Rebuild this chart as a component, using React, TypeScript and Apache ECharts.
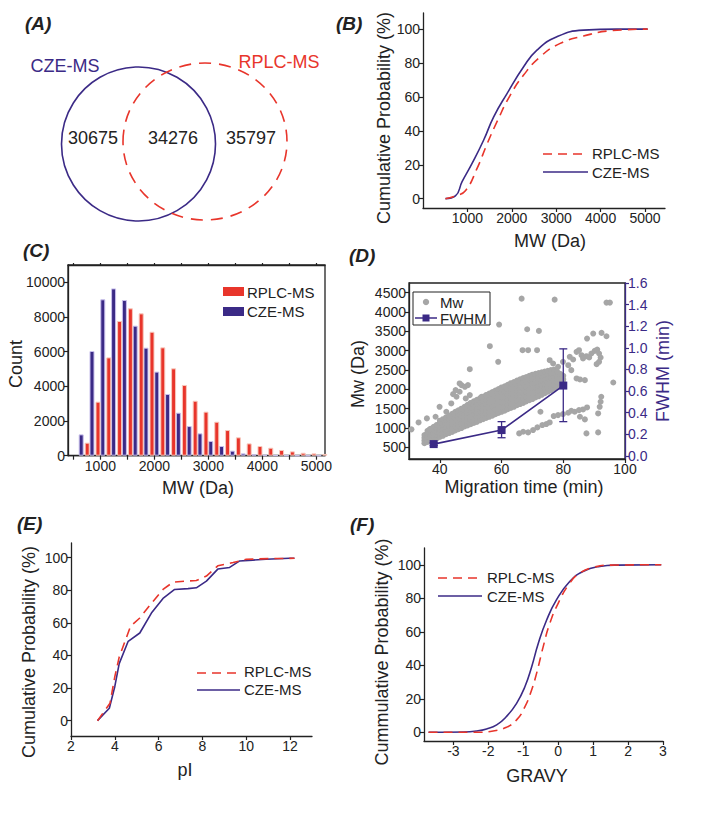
import React, { useEffect, useRef } from "react";
import * as echarts from "echarts";

const PURPLE = "#3b2a86";
const RED = "#e8352b";
const GRAY = "#a6a6a6";
const INK = "#222222";
const FONT = "'Liberation Sans', Arial, Helvetica, sans-serif";

// (A) Venn
const vennNames = ["CZE-MS", "RPLC-MS"];
const vennCounts = ["30675", "34276", "35797"];

// (B) cumulative MW
const bCzeMw = [506, 730, 880, 1105, 1367, 1592, 1892, 2266, 2566, 3015, 3614, 4363, 5060];
const bCzeProb = [0, 1.6, 10, 20.8, 34.6, 48.3, 62, 77.8, 87.6, 95.5, 99.4, 100, 100];
const bRplcMw = [506, 730, 955, 1218, 1442, 1667, 1966, 2266, 2640, 3090, 3614, 4213, 5060];
const bRplcProb = [0, 1.6, 4.7, 17.9, 32.2, 45.4, 61.1, 72.9, 83.7, 91.6, 95.9, 99, 100];
const bXTicks = [1000, 2000, 3000, 4000, 5000];
const probTicks = [0, 20, 40, 60, 80, 100];

// (C) histogram
const cBins = [700, 900, 1100, 1300, 1500, 1700, 1900, 2100, 2300, 2500, 2700, 2900, 3100, 3300, 3500, 3700, 3900, 4100, 4300, 4500, 4700, 4900, 5100];
const cCze = [1230, 6040, 9020, 9650, 8980, 7500, 6230, 4850, 3560, 2480, 1710, 1290, 850, 560, 290, 135, 80, 40, 20, 10, 5, 0, 0];
const cRplc = [750, 3115, 5670, 7770, 8500, 8210, 7150, 6250, 5040, 4080, 3170, 2540, 1960, 1480, 1060, 710, 560, 460, 330, 250, 170, 135, 100];
const cYTicks = [0, 2000, 4000, 6000, 8000, 10000];
const cMinorTicks = [500, 1000, 1500, 2000, 2500, 3000, 3500, 4000, 4500, 5000];

// (D) migration time vs Mw
const dBand: [number, number[]][] = [
  [35, [610, 680, 750, 820]],
  [36, [640, 710, 790, 870, 930]],
  [37, [660, 740, 830, 910, 980]],
  [38, [700, 780, 870, 950, 1030]],
  [39, [730, 820, 900, 990, 1080]],
  [40, [770, 860, 950, 1040, 1130, 1190]],
  [41, [800, 890, 990, 1080, 1170, 1230]],
  [42, [840, 930, 1030, 1120, 1210, 1280]],
  [43, [870, 970, 1060, 1160, 1250, 1320]],
  [44, [900, 1000, 1100, 1200, 1300, 1370]],
  [45, [940, 1040, 1140, 1240, 1340, 1420]],
  [46, [970, 1070, 1180, 1280, 1380, 1460]],
  [47, [1000, 1110, 1210, 1320, 1420, 1500]],
  [48, [1040, 1140, 1250, 1350, 1460, 1550]],
  [49, [1070, 1180, 1290, 1390, 1500, 1600]],
  [50, [1100, 1210, 1320, 1430, 1540, 1650]],
  [51, [1130, 1240, 1360, 1470, 1580, 1690]],
  [52, [1160, 1280, 1390, 1500, 1620, 1730]],
  [53, [1200, 1310, 1430, 1540, 1660, 1770]],
  [54, [1230, 1350, 1460, 1580, 1700, 1810]],
  [55, [1260, 1380, 1500, 1620, 1740, 1850]],
  [56, [1290, 1410, 1530, 1650, 1770, 1890]],
  [57, [1320, 1440, 1560, 1690, 1810, 1930]],
  [58, [1360, 1480, 1600, 1720, 1850, 1970]],
  [59, [1390, 1510, 1640, 1760, 1890, 2010]],
  [60, [1420, 1540, 1670, 1800, 1920, 2050]],
  [61, [1450, 1580, 1710, 1840, 1960, 2080]],
  [62, [1490, 1610, 1740, 1870, 2000, 2120]],
  [63, [1520, 1650, 1780, 1910, 2040, 2160]],
  [64, [1550, 1680, 1810, 1940, 2070, 2190]],
  [65, [1590, 1720, 1850, 1980, 2110, 2230]],
  [66, [1620, 1750, 1880, 2010, 2140, 2260]],
  [67, [1650, 1780, 1910, 2040, 2170, 2290]],
  [68, [1690, 1820, 1950, 2080, 2210, 2320]],
  [69, [1720, 1850, 1980, 2110, 2240, 2350]],
  [70, [1750, 1880, 2010, 2140, 2270, 2380]],
  [71, [1790, 1920, 2050, 2170, 2300, 2400]],
  [72, [1820, 1950, 2080, 2200, 2320, 2420]],
  [73, [1860, 1990, 2110, 2230, 2350, 2440]],
  [74, [1900, 2020, 2140, 2260, 2370, 2460]],
  [75, [1940, 2060, 2170, 2290, 2400, 2480]],
  [76, [1980, 2090, 2200, 2310, 2420, 2500]],
  [77, [2020, 2130, 2240, 2340, 2440, 2510]],
  [78, [2060, 2170, 2270, 2370, 2460]],
  [79, [2110, 2210, 2310, 2400]],
  [80, [2160, 2260, 2350]],
];
const dOutliers: [number, number][] = [
  [30.8, 966], [33.1, 1146], [36.7, 966], [35.8, 1250], [38.6, 1292], [39.9, 1550],
  [42.1, 1421], [43.2, 1292], [43.7, 1637], [45.4, 1809], [46.4, 1938], [47, 2110],
  [48.1, 2067], [49.1, 2110], [46.4, 2153], [45.1, 1981], [44.3, 1877], [49.7, 2522],
  [48.4, 1766], [49.7, 1852], [53.5, 1809], [55.1, 1852], [56.7, 1895], [58.9, 2712],
  [56.2, 3116], [59.2, 3675], [66.5, 4346], [77.2, 4320], [68.3, 3555], [72.1, 3512],
  [66.8, 3013], [68.6, 3013], [71.5, 3013],
  [65.7, 862], [67, 905], [68.6, 888], [70.2, 948], [71.6, 1017], [73.2, 1077],
  [74.5, 1103], [75.6, 1146], [72.6, 1421], [76.9, 1310], [78.3, 1335], [79.9, 1361],
  [81.6, 1396], [82.6, 1447], [83.7, 1421], [85.1, 1464], [86.4, 1482], [87.7, 1533],
  [85.4, 1292], [87, 1224], [87.5, 862], [91.3, 888], [91.3, 1378], [91.8, 1550],
  [92.1, 1680], [92.3, 1809],
  [75.6, 2755], [76.7, 2669], [78.3, 2583], [79.9, 2712], [81.6, 2626], [82.6, 2497],
  [84.3, 2282], [85.4, 2256], [87, 2239], [82.1, 2841], [83.2, 2772], [84.3, 2970],
  [85.1, 3013], [85.9, 2884], [86.4, 2798], [87.5, 2858], [88.4, 2824], [89.1, 2927],
  [90.2, 2996], [91, 3030], [91.6, 2927], [92.1, 2824], [91.6, 2712], [90.8, 2652],
  [87.7, 3314], [89.7, 3443], [92.4, 3460], [94, 3374], [94, 4243], [95.1, 4243], [96.2, 2178],
];
const dFwhmTime = [38, 60, 80];
const dFwhm = [0.108, 0.238, 0.65];
const dFwhmLow = [0.095, 0.167, 0.316];
const dFwhmHigh = [0.12, 0.316, 0.99];
const dXTicks = [40, 60, 80, 100];
const dYTicks = [500, 1000, 1500, 2000, 2500, 3000, 3500, 4000, 4500];
const dY2Ticks = [0, 0.2, 0.4, 0.6, 0.8, 1.0, 1.2, 1.4, 1.6];

// (E) pI
const eCzePi = [3.21, 3.75, 4.0, 4.2, 4.61, 5.14, 5.67, 6.2, 6.73, 7.34, 7.72, 8.18, 8.7, 9.24, 9.7, 10.3, 10.9, 11.97, 12.2];
const eCzeProb = [0, 7.6, 21, 35, 48.7, 53.8, 66, 75, 80.5, 81, 81.5, 85.6, 93, 94, 98, 98.5, 99, 99.6, 99.6];
const eRplcPi = [3.21, 3.78, 4.0, 4.2, 4.72, 5.14, 5.67, 6.2, 6.66, 7.27, 7.72, 8.18, 8.7, 9.4, 10.0, 11.0, 12.2];
const eRplcProb = [0, 10.7, 27, 39, 58, 63, 72, 80.5, 85, 85.6, 86, 88.7, 95, 97, 99, 99.4, 99.6];
const eXTicks = [2, 4, 6, 8, 10, 12];

// (F) GRAVY
const fCzeGravy = [-3.71, -2.71, -2.33, -2.05, -1.76, -1.48, -1.19, -0.95, -0.76, -0.57, -0.33, -0.05, 0.33, 0.71, 1.19, 1.67, 2.95];
const fCzeProb = [0, 0.2, 0.8, 2, 4.4, 9.4, 17.3, 27.3, 39, 53, 67, 79, 90, 96, 99, 99.8, 100];
const fRplcGravy = [-3.71, -2.33, -1.86, -1.48, -1.19, -0.95, -0.76, -0.62, -0.43, -0.24, 0, 0.33, 0.62, 1.0, 1.48, 2.95];
const fRplcProb = [0, 0, 0.8, 3, 7.4, 15.3, 25.3, 35, 51, 65, 77, 89, 95, 98.4, 99.8, 100];
const fXTicks = [-3, -2, -1, 0, 1, 2, 3];

const zip = (a: number[], b: number[]) => a.map((v, i) => [v, b[i]]);

function axis(gridIndex: number, min: number, max: number, ticks: number[], extra: any = {}) {
  const color = extra.color || INK;
  return {
    type: "value",
    gridIndex,
    min,
    max,
    position: extra.position,
    axisLine: { show: true, onZero: false, lineStyle: { color, width: 1.3 } },
    axisTick: {
      show: true,
      inside: false,
      length: extra.tickLength || 4,
      customValues: extra.tickValues || ticks,
      lineStyle: { color, width: 1.2 },
    },
    axisLabel: {
      show: extra.noLabels ? false : true,
      customValues: ticks,
      color,
      fontSize: 14,
      fontFamily: FONT,
      margin: 3,
      formatter: extra.formatter || ((v: number) => String(v)),
      hideOverlap: false,
    },
    splitLine: { show: false },
  };
}

function text(t: string, x: number, y: number, opts: any = {}) {
  return {
    type: "text",
    x,
    y,
    rotation: opts.rotate ? Math.PI / 2 : 0,
    silent: true,
    style: {
      text: t,
      x: 0,
      y: 0,
      fill: opts.color || INK,
      fontSize: opts.size || 18,
      fontFamily: FONT,
      fontWeight: opts.bold ? "bold" : "normal",
      fontStyle: opts.italic ? "italic" : "normal",
      textAlign: opts.align || "center",
      textVerticalAlign: "middle",
    },
  };
}

function hline(x1: number, x2: number, y: number, color: string, dashed: boolean, w = 1.6) {
  return {
    type: "line",
    silent: true,
    shape: { x1, y1: y, x2, y2: y },
    style: { stroke: color, lineWidth: w, lineDash: dashed ? [9, 6] : null },
  };
}

export default function App() {
  const ref = useRef<HTMLDivElement>(null);
  useEffect(() => {
    if (!ref.current) return;
    const chart = echarts.init(ref.current, null, { renderer: "svg" });

    const dScatter: number[][] = [];
    dBand.forEach(([t, ms]) => ms.forEach((m) => dScatter.push([t, m])));
    dOutliers.forEach((p) => dScatter.push(p));

    const panel = (s: string, x: number, y: number) => text(s, x, y, { bold: true, italic: true, size: 19, align: "left" });

    const graphic: any[] = [
      panel("(A)", 25, 23),
      panel("(B)", 336, 23),
      panel("(C)", 23, 250),
      panel("(D)", 349, 255),
      panel("(E)", 17, 523),
      panel("(F)", 350, 524),
      // Venn
      {
        type: "circle",
        silent: true,
        shape: { cx: 138.5, cy: 144, r: 77 },
        style: { fill: "none", stroke: PURPLE, lineWidth: 1.6 },
      },
      {
        type: "ellipse",
        silent: true,
        shape: { cx: 205, cy: 141.5, rx: 82, ry: 78.5 },
        style: { fill: "none", stroke: RED, lineWidth: 1.6, lineDash: [12, 8] },
      },
      text(vennNames[0], 65, 66, { color: PURPLE }),
      text(vennNames[1], 279, 62, { color: RED }),
      text(vennCounts[0], 93, 138),
      text(vennCounts[1], 173, 138),
      text(vennCounts[2], 251, 138),
      // B titles & legend
      text("Cumulative Probability (%)", 384, 118, { rotate: true }),
      text("MW (Da)", 550, 241),
      hline(543, 588, 154, RED, true),
      text("RPLC-MS", 592, 153, { size: 15, align: "left" }),
      hline(543, 588, 172, PURPLE, false),
      text("CZE-MS", 592, 172, { size: 15, align: "left" }),
      // C titles & legend
      text("Count", 16, 364, { rotate: true }),
      text("MW (Da)", 198, 488),
      { type: "rect", silent: true, shape: { x: 223, y: 287, width: 21, height: 9 }, style: { fill: RED } },
      text("RPLC-MS", 247, 292, { size: 15, align: "left" }),
      { type: "rect", silent: true, shape: { x: 223, y: 307, width: 21, height: 9 }, style: { fill: PURPLE } },
      text("CZE-MS", 247, 311, { size: 15, align: "left" }),
      // D titles & legend
      text("Mw (Da)", 358, 374, { rotate: true }),
      text("FWHM (min)", 663, 371, { rotate: true, color: PURPLE }),
      text("Migration time (min)", 524, 487),
      {
        type: "rect",
        silent: true,
        shape: { x: 413, y: 292, width: 77, height: 33 },
        style: { fill: "#fff", stroke: INK, lineWidth: 1 },
        z: 100,
      },
      { type: "circle", silent: true, z: 101, shape: { cx: 426, cy: 302, r: 3.2 }, style: { fill: GRAY } },
      { ...text("Mw", 440, 302, { size: 15, align: "left" }), z: 101 },
      { ...hline(415, 437, 318, PURPLE, false, 1.5), z: 101 },
      { type: "rect", silent: true, z: 101, shape: { x: 422.5, y: 314.5, width: 7, height: 7 }, style: { fill: PURPLE } },
      { ...text("FWHM", 440, 318, { size: 15, align: "left" }), z: 101 },
      // E titles & legend
      text("Cumulative Probability (%)", 29, 652, { rotate: true }),
      text("pI", 185, 770),
      hline(197, 240, 673, RED, true),
      text("RPLC-MS", 244, 671, { size: 15, align: "left" }),
      hline(197, 240, 690, PURPLE, false),
      text("CZE-MS", 244, 689, { size: 15, align: "left" }),
      // F titles & legend
      text("Cummulative Probability (%)", 382, 652, { rotate: true }),
      text("GRAVY", 537, 776),
      hline(438, 482, 578, RED, true),
      text("RPLC-MS", 487, 577, { size: 15, align: "left" }),
      hline(438, 482, 596, PURPLE, false),
      text("CZE-MS", 487, 596, { size: 15, align: "left" }),
    ];

    const lineSeries = (xi: number, yi: number, data: number[][], color: string, dashed: boolean, smooth: any) => ({
      type: "line",
      xAxisIndex: xi,
      yAxisIndex: yi,
      data,
      showSymbol: false,
      symbol: "none",
      smooth,
      lineStyle: { color, width: 1.6, type: dashed ? [9, 6] : "solid" },
      itemStyle: { color },
      z: dashed ? 3 : 2,
    });

    const option: any = {
      animation: false,
      backgroundColor: "#ffffff",
      textStyle: { fontFamily: FONT },
      grid: [
        { left: 423, top: 13, width: 242, height: 195 },
        { left: 68, top: 265, width: 257, height: 190.7, show: true, borderColor: INK, borderWidth: 1.3, backgroundColor: "transparent" },
        { left: 409, top: 283, width: 216, height: 176, show: true, borderColor: INK, borderWidth: 1.3, backgroundColor: "transparent" },
        { left: 71, top: 543, width: 241, height: 193 },
        { left: 424, top: 548, width: 239, height: 193 },
      ],
      xAxis: [
        axis(0, 0, 5450, bXTicks),
        axis(1, 400, 5160, bXTicks, { tickValues: cMinorTicks }),
        axis(2, 30, 100, dXTicks),
        axis(3, 2, 13, eXTicks),
        axis(4, -3.84, 3, fXTicks),
        axis(1, 400, 5160, bXTicks, { tickValues: cMinorTicks, position: "top", noLabels: true, tickLength: 2 }),
      ],
      yAxis: [
        axis(0, -5.5, 109.5, probTicks),
        axis(1, 0, 11000, cYTicks),
        axis(2, 200, 4750, dYTicks, { position: "left" }),
        axis(2, -0.03, 1.6, dY2Ticks, { position: "right", color: PURPLE, formatter: (v: number) => v.toFixed(1) }),
        axis(3, -9.4, 109, probTicks),
        axis(4, -5.2, 110, probTicks),
      ],
      series: [
        lineSeries(0, 0, zip(bRplcMw, bRplcProb), RED, true, 0.5),
        lineSeries(0, 0, zip(bCzeMw, bCzeProb), PURPLE, false, 0.5),
        {
          type: "bar",
          name: "CZE-MS",
          xAxisIndex: 1,
          yAxisIndex: 1,
          data: zip(cBins, cCze),
          barWidth: 5,
          barGap: "20%",
          itemStyle: { color: PURPLE, borderColor: "#c9c0ec", borderWidth: 1 },
        },
        {
          type: "bar",
          name: "RPLC-MS",
          xAxisIndex: 1,
          yAxisIndex: 1,
          data: zip(cBins, cRplc),
          barWidth: 5,
          barGap: "20%",
          itemStyle: { color: RED, borderColor: "#f7c9bd", borderWidth: 1 },
        },
        {
          type: "scatter",
          xAxisIndex: 2,
          yAxisIndex: 2,
          data: dScatter,
          symbolSize: 6,
          itemStyle: { color: GRAY, opacity: 1 },
          z: 2,
        },
        {
          type: "custom",
          xAxisIndex: 2,
          yAxisIndex: 3,
          data: dFwhmTime.map((t, i) => [t, dFwhmLow[i], dFwhmHigh[i]]),
          encode: { x: 0, y: [1, 2] },
          z: 4,
          renderItem: (params: any, api: any) => {
            const t = api.value(0);
            const lo = api.coord([t, api.value(1)]);
            const hi = api.coord([t, api.value(2)]);
            const st = { stroke: PURPLE, lineWidth: 1.3 };
            return {
              type: "group",
              children: [
                { type: "line", shape: { x1: lo[0], y1: lo[1], x2: hi[0], y2: hi[1] }, style: st },
                { type: "line", shape: { x1: lo[0] - 4, y1: lo[1], x2: lo[0] + 4, y2: lo[1] }, style: st },
                { type: "line", shape: { x1: hi[0] - 4, y1: hi[1], x2: hi[0] + 4, y2: hi[1] }, style: st },
              ],
            };
          },
        },
        {
          type: "line",
          xAxisIndex: 2,
          yAxisIndex: 3,
          data: zip(dFwhmTime, dFwhm),
          symbol: "rect",
          symbolSize: 8,
          showSymbol: true,
          lineStyle: { color: PURPLE, width: 1.6 },
          itemStyle: { color: PURPLE },
          z: 5,
        },
        lineSeries(3, 4, zip(eRplcPi, eRplcProb), RED, true, false),
        lineSeries(3, 4, zip(eCzePi, eCzeProb), PURPLE, false, false),
        lineSeries(4, 5, zip(fRplcGravy, fRplcProb), RED, true, 0.5),
        lineSeries(4, 5, zip(fCzeGravy, fCzeProb), PURPLE, false, 0.5),
      ],
      graphic,
    };
    chart.setOption(option);
    return () => chart.dispose();
  }, []);

  return (
    <div
      ref={ref}
      style={{ position: "absolute", left: 0, top: 0, width: 704, height: 817, background: "#fff" }}
    />
  );
}
